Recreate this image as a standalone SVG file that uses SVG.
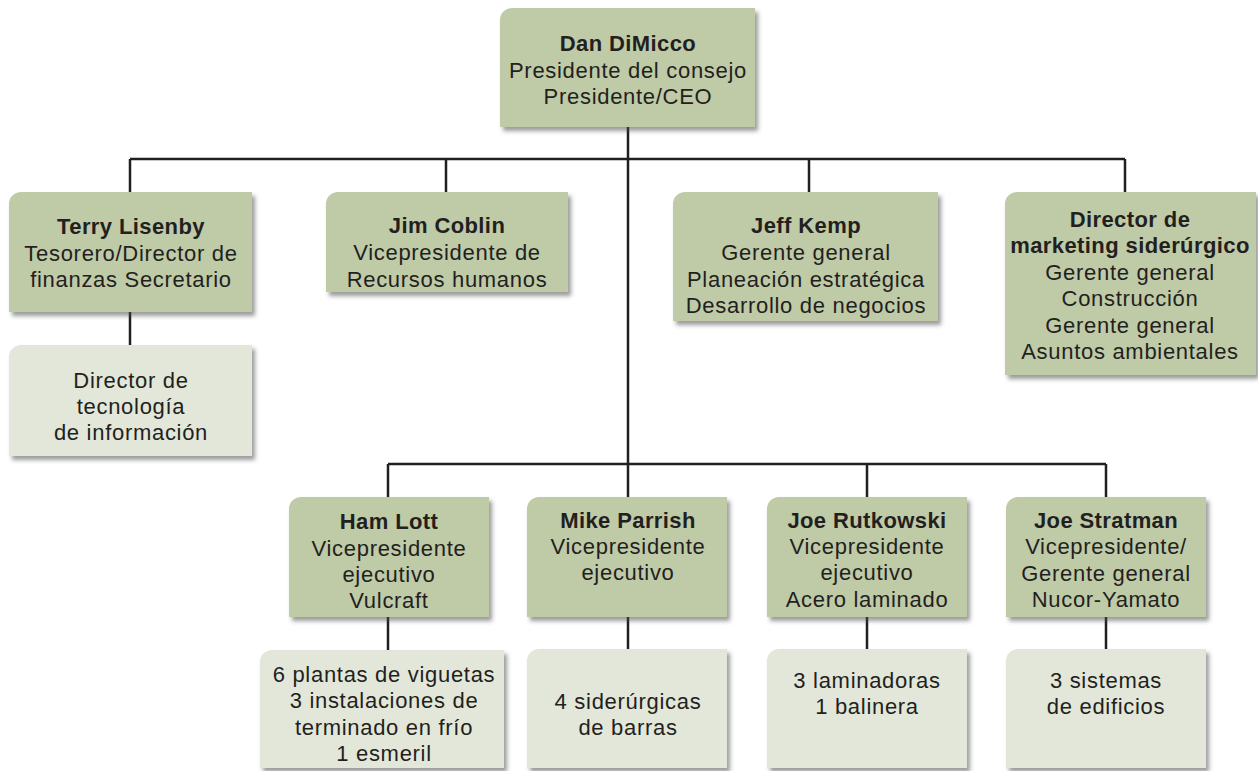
<svg xmlns="http://www.w3.org/2000/svg" width="1258" height="771" viewBox="0 0 1258 771">
<defs>
<filter id="sh" x="-10%" y="-10%" width="125%" height="130%">
<feDropShadow dx="3" dy="4" stdDeviation="2" flood-color="#4a4a4a" flood-opacity="0.55"/>
</filter>
<style>
.dk{fill:#bfcaa7;filter:url(#sh)}
.lt{fill:#e2e7d9;filter:url(#sh)}
text{font-family:"Liberation Sans",Arial,sans-serif;font-size:22px;fill:#231f20;text-anchor:middle;letter-spacing:0.7px}
.b{font-weight:bold;letter-spacing:0.4px}
.ln{stroke:#231f20;stroke-width:2.5;fill:none}
</style>
</defs>
<rect width="1258" height="771" fill="#ffffff"/>
<g id="connectors" class="ln">
<path d="M628 127V464"/>
<path d="M130 159H1125"/>
<path d="M130 159V192M446 159V192M809 159V192M1125 159V192"/>
<path d="M130 312V345"/>
<path d="M388 464H1106"/>
<path d="M388 464V497M628 464V497M867 464V497M1106 464V497"/>
<path d="M388 617V650M628 617V649M867 617V649M1106 617V649"/>
</g>
<g id="ceo">
<path class="dk" d="M500 20A12 12 0 0 1 512 8H755V127H500Z"/>
<text x="628" y="51" class="b">Dan DiMicco</text>
<text x="628" y="78">Presidente del consejo</text>
<text x="628" y="104">Presidente/CEO</text>
</g>
<g id="terry">
<path class="dk" d="M9 204A12 12 0 0 1 21 192H252V312H9Z"/>
<text x="131" y="234" class="b">Terry Lisenby</text>
<text x="131" y="261">Tesorero/Director de</text>
<text x="131" y="287">finanzas Secretario</text>
</g>
<g id="tech">
<path class="lt" d="M9 357A12 12 0 0 1 21 345H252V456H9Z"/>
<text x="131" y="388">Director de</text>
<text x="131" y="414">tecnología</text>
<text x="131" y="440">de información</text>
</g>
<g id="jim">
<path class="dk" d="M326 204A12 12 0 0 1 338 192H568V292H326Z"/>
<text x="447" y="233" class="b">Jim Coblin</text>
<text x="447" y="260">Vicepresidente de</text>
<text x="447" y="287">Recursos humanos</text>
</g>
<g id="jeff">
<path class="dk" d="M673 204A12 12 0 0 1 685 192H938V321H673Z"/>
<text x="806" y="233" class="b">Jeff Kemp</text>
<text x="806" y="260">Gerente general</text>
<text x="806" y="287">Planeación estratégica</text>
<text x="806" y="313">Desarrollo de negocios</text>
</g>
<g id="marketing">
<path class="dk" d="M1005 204A12 12 0 0 1 1017 192H1256V375H1005Z"/>
<text x="1130" y="227" class="b">Director de</text>
<text x="1130" y="253" class="b">marketing siderúrgico</text>
<text x="1130" y="280">Gerente general</text>
<text x="1130" y="306">Construcción</text>
<text x="1130" y="333">Gerente general</text>
<text x="1130" y="359">Asuntos ambientales</text>
</g>
<g id="ham">
<path class="dk" d="M289 509A12 12 0 0 1 301 497H489V617H289Z"/>
<text x="389" y="529" class="b">Ham Lott</text>
<text x="389" y="556">Vicepresidente</text>
<text x="389" y="582">ejecutivo</text>
<text x="389" y="608">Vulcraft</text>
</g>
<g id="ham-sub">
<path class="lt" d="M260 662A12 12 0 0 1 272 650H504V768H260Z"/>
<text x="384" y="682">6 plantas de viguetas</text>
<text x="384" y="708">3 instalaciones de</text>
<text x="384" y="735">terminado en frío</text>
<text x="384" y="761">1 esmeril</text>
</g>
<g id="mike">
<path class="dk" d="M527 509A12 12 0 0 1 539 497H727V617H527Z"/>
<text x="628" y="528" class="b">Mike Parrish</text>
<text x="628" y="554">Vicepresidente</text>
<text x="628" y="580">ejecutivo</text>
</g>
<g id="mike-sub">
<path class="lt" d="M527 661A12 12 0 0 1 539 649H727V768H527Z"/>
<text x="628" y="709">4 siderúrgicas</text>
<text x="628" y="735">de barras</text>
</g>
<g id="rutkowski">
<path class="dk" d="M767 509A12 12 0 0 1 779 497H967V617H767Z"/>
<text x="867" y="528" class="b">Joe Rutkowski</text>
<text x="867" y="554">Vicepresidente</text>
<text x="867" y="580">ejecutivo</text>
<text x="867" y="607">Acero laminado</text>
</g>
<g id="rutkowski-sub">
<path class="lt" d="M767 661A12 12 0 0 1 779 649H967V768H767Z"/>
<text x="867" y="688">3 laminadoras</text>
<text x="867" y="714">1 balinera</text>
</g>
<g id="stratman">
<path class="dk" d="M1006 509A12 12 0 0 1 1018 497H1206V617H1006Z"/>
<text x="1106" y="528" class="b">Joe Stratman</text>
<text x="1106" y="554">Vicepresidente/</text>
<text x="1106" y="581">Gerente general</text>
<text x="1106" y="607">Nucor-Yamato</text>
</g>
<g id="stratman-sub">
<path class="lt" d="M1006 661A12 12 0 0 1 1018 649H1206V768H1006Z"/>
<text x="1106" y="688">3 sistemas</text>
<text x="1106" y="714">de edificios</text>
</g>
</svg>
